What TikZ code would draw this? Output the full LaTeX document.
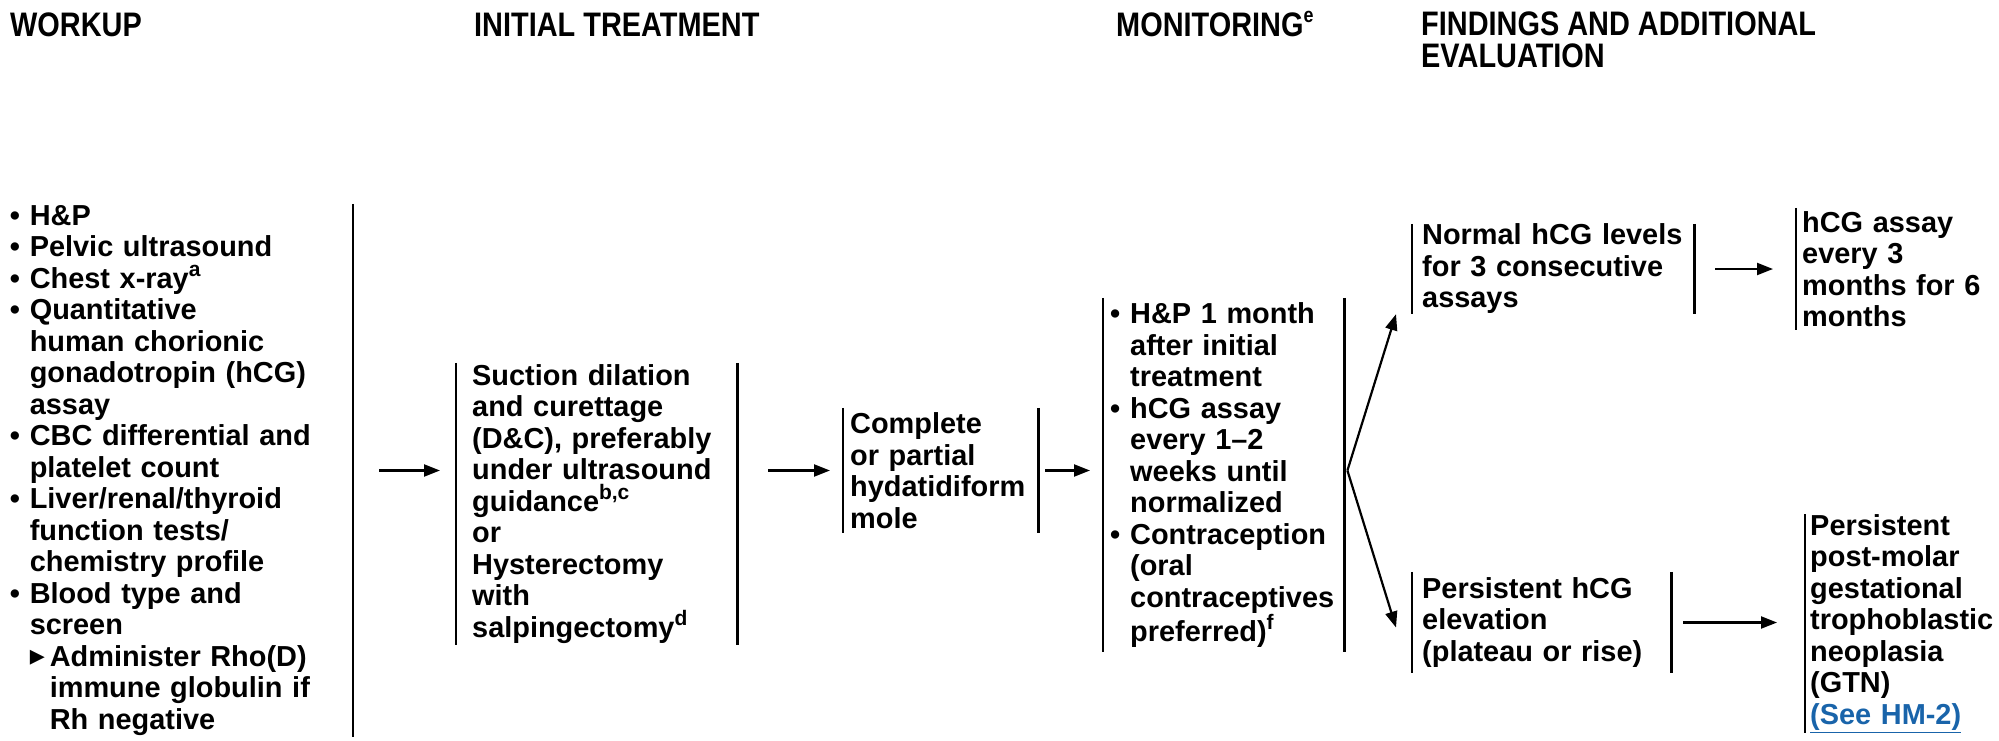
\documentclass[tikz,border=0pt]{standalone}
\usepackage{fontspec}
\setmainfont{Liberation Sans}
\newfontfamily\headfont{Liberation Sans}[FakeStretch=0.85]
\newfontfamily\trifont{DejaVu Sans}
\usetikzlibrary{arrows.meta}
\definecolor{linkblue}{RGB}{25,100,170}

\newcommand{\wkbul}{\makebox[20pt][l]{\textbullet}}
\newcommand{\wkind}{\hspace*{20pt}}
\newcommand{\wktri}{\makebox[20pt][l]{\raisebox{1pt}{\fontsize{30pt}{30pt}\trifont\char"25B8}}}
\newcommand{\wksup}[1]{\raisebox{0.4em}{\fontsize{21pt}{21pt}\selectfont #1}}

\begin{document}
\begin{tikzpicture}[x=1pt,y=-1pt]
    \tikzstyle{head} = [inner sep=0pt, font=\fontsize{34pt}{32pt}\headfont\bfseries,
               align=left]
    \tikzstyle{box} = [inner ysep=0pt, align=left,
               font=\fontsize{28.9pt}{31.5pt}\selectfont\bfseries]
    \tikzstyle{bar} = [line width=2.6pt]
    \tikzstyle{line} = [draw, line width=2.2pt, -{Triangle[length=16pt,width=12pt]}]

    \useasboundingbox (0,0) rectangle (1999,740);

    % Column headers
    \node[head, anchor=base west] (hwork) at (10,36) {WORKUP};
    \node[head, anchor=base west] (hinit) at (474,36) {INITIAL TREATMENT};
    \node[head, anchor=base west] (hmon) at (1116,36) {MONITORING\wksup{e}};
    \node[head, anchor=north west] (hfind) at (1421,11.7) {FINDINGS AND ADDITIONAL\\EVALUATION};

    % Boxes
    \node[box, anchor=east, inner xsep=0pt, text width=343pt, minimum height=533pt]
      (workup) at (353,470.5) {%
      \wkbul H\&P\\
      \wkbul Pelvic ultrasound\\
      \wkbul Chest x-ray\wksup{a}\\
      \wkbul Quantitative\\
      \wkind human chorionic\\
      \wkind gonadotropin (hCG)\\
      \wkind assay\\
      \wkbul CBC differential and\\
      \wkind platelet count\\
      \wkbul Liver/renal/thyroid\\
      \wkind function tests/\\
      \wkind chemistry profile\\
      \wkbul Blood type and\\
      \wkind screen\\
      \wkind\wktri Administer Rho(D)\\
      \wkind\wkind immune globulin if\\
      \wkind\wkind Rh negative};

    \node[box, anchor=west, inner xsep=16pt, text width=249pt, minimum height=282pt]
      (initial) at (456,504) {%
      Suction dilation\\
      and curettage\\
      (D\&C), preferably\\
      under ultrasound\\
      guidance\wksup{b,c}\\
      or\\
      Hysterectomy\\
      with\\
      salpingectomy\wksup{d}};

    \node[box, anchor=west, inner xsep=7pt, text width=181pt, minimum height=125pt]
      (complete) at (843,470.5) {%
      Complete\\
      or partial\\
      hydatidiform\\
      mole};

    \node[box, anchor=west, inner xsep=7pt, text width=227pt, minimum height=354pt]
      (monitor) at (1103,475) {%
      \wkbul H\&P 1 month\\
      \wkind after initial\\
      \wkind treatment\\
      \wkbul hCG assay\\
      \wkind every 1--2\\
      \wkind weeks until\\
      \wkind normalized\\
      \wkbul Contraception\\
      \wkind (oral\\
      \wkind contraceptives\\
      \wkind preferred)\wksup{f}};

    \node[box, anchor=west, inner xsep=10pt, text width=262pt, minimum height=88pt]
      (normal) at (1412,269) {%
      Normal hCG levels\\
      for 3 consecutive\\
      assays};

    \node[box, anchor=west, inner xsep=6pt, text width=190pt, minimum height=122pt]
      (assay6) at (1796,269) {%
      hCG assay\\
      every 3\\
      months for 6\\
      months};

    \node[box, anchor=west, inner xsep=10pt, text width=239pt, minimum height=101pt]
      (persist) at (1412,622.5) {%
      Persistent hCG\\
      elevation\\
      (plateau or rise)};

    \node[box, anchor=west, inner xsep=5pt, text width=188pt, minimum height=217pt]
      (gtn) at (1805,623.5) {%
      Persistent\\
      post-molar\\
      gestational\\
      trophoblastic\\
      neoplasia\\
      (GTN)\\
      {\color{linkblue}\underline{(See HM-2)}}};

    % Side bars
    \draw[bar] (workup.north east) -- (workup.south east);
    \draw[bar] (initial.north west) -- (initial.south west);
    \draw[bar] (initial.north east) -- (initial.south east);
    \draw[bar] (complete.north west) -- (complete.south west);
    \draw[bar] (complete.north east) -- (complete.south east);
    \draw[bar] (monitor.north west) -- (monitor.south west);
    \draw[bar] (monitor.north east) -- (monitor.south east);
    \draw[bar] (normal.north west) -- (normal.south west);
    \draw[bar] (normal.north east) -- (normal.south east);
    \draw[bar] (assay6.north west) -- (assay6.south west);
    \draw[bar] (persist.north west) -- (persist.south west);
    \draw[bar] (persist.north east) -- (persist.south east);
    \draw[bar] (gtn.north west) -- (gtn.south west);

    % Arrows
    \coordinate (fork) at (monitor.east |- complete.east);
    \draw[line, shorten <=26pt, shorten >=16pt] (workup.east) -- (workup.east -| initial.west);
    \draw[line, shorten <=31pt, shorten >=13pt] (complete.west -| initial.east) -- (complete.west);
    \draw[line, shorten <=7pt, shorten >=13pt] (complete.east) -- (complete.east -| monitor.west);
    \draw[line] ([xshift=3pt]fork) -- ([xshift=-16pt]normal.south west);
    \draw[line] ([xshift=3pt]fork) -- ([xshift=-16pt,yshift=-5pt]persist.west);
    \draw[line, shorten <=21pt, shorten >=23pt] (normal.east) -- (normal.east -| assay6.west);
    \draw[line, shorten <=12pt, shorten >=28pt] (persist.east) -- (persist.east -| gtn.west);
  \end{tikzpicture}
\end{document}
